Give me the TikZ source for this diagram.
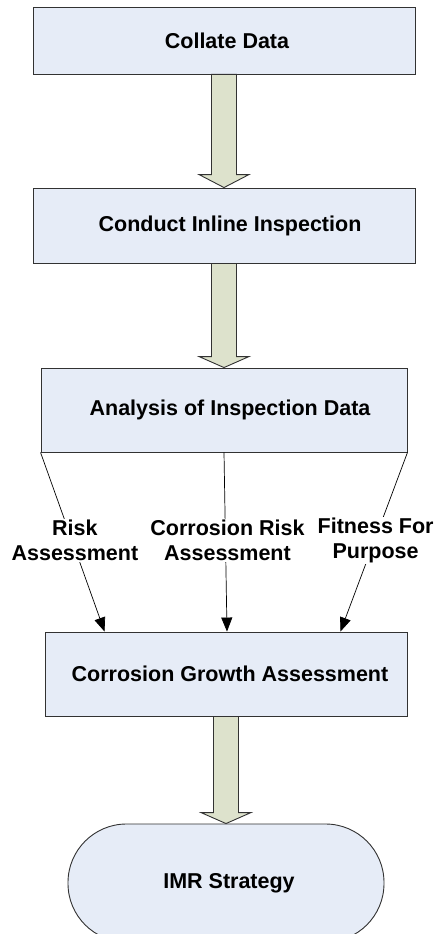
\documentclass[tikz,border=0pt]{standalone}
\usepackage{fontspec}
\setmainfont{Liberation Sans}
\usetikzlibrary{calc,arrows.meta}
\definecolor{boxfill}{RGB}{230,236,247}
\definecolor{arrfill}{RGB}{221,226,204}
\definecolor{edge}{RGB}{50,50,50}
\newcommand{\BigArr}[3]{\path[bigarr] let \p1=(#1.south), \p2=(#2.north) in
  (\x1-12.5pt,\y1) -- (\x1+12.5pt,\y1) -- (\x1+12.5pt,\y2+#3) -- (\x1+25pt,\y2+#3)
  -- (\x1,\y2) -- (\x1-25pt,\y2+#3) -- (\x1-12.5pt,\y2+#3) -- cycle;}
\begin{document}
\begin{tikzpicture}[x=1pt,y=-1pt,
  every node/.style={font=\fontsize{21.5}{25}\selectfont\bfseries},
  procbox/.style={draw=edge, line width=0.9pt, fill=boxfill, rectangle, inner sep=0pt},
  bigarr/.style={draw=edge, line width=0.9pt, fill=arrfill},
  thinarr/.style={draw=black, line width=0.7pt, -{Triangle[length=14pt,width=11pt]}},
  lbl/.style={fill=white, inner sep=1pt, align=center}]
\useasboundingbox (0,0) rectangle (439,934);
\fill[white] (0,0) rectangle (439,934);
\node[procbox, minimum width=382pt, minimum height=67pt] (b1) at (224,40.5) {\hspace*{6pt}Collate Data};
\node[procbox, minimum width=382pt, minimum height=75pt] (b2) at (224,225.5) {\hspace*{12pt}Conduct Inline Inspection};
\node[procbox, minimum width=366pt, minimum height=84pt] (b3) at (224,410) {\hspace*{12pt}Analysis of Inspection Data};
\node[procbox, minimum width=362pt, minimum height=84pt] (b4) at (226,674) {\hspace*{8pt}Corrosion Growth Assessment};
\node[procbox, rounded corners=58.5pt, minimum width=316pt, minimum height=118pt] (b5) at (226,883) {\hspace*{6pt}\raisebox{3pt}{IMR Strategy}};
\BigArr{b1}{b2}{13pt}
\BigArr{b2}{b3}{11pt}
\BigArr{b4}{b5}{11pt}
\coordinate (e1) at ($(b4.north west)+(60pt,0)$);
\coordinate (e2) at ($(b4.north)+(1pt,0)$);
\coordinate (e3) at ($(b4.north east)+(-67pt,0)$);
\draw[thinarr] (b3.south west) -- node[lbl, pos=0.49, xshift=3pt] (l1) {Risk\\Assessment} (e1);
\draw[thinarr] (b3.south) -- node[lbl, pos=0.49, xshift=2pt] (l2) {Corrosion Risk\\Assessment} (e2);
\draw[thinarr] (b3.south east) -- node[lbl, pos=0.49, xshift=1pt] (l3) {Fitness For\\Purpose} (e3);
\end{tikzpicture}
\end{document}
